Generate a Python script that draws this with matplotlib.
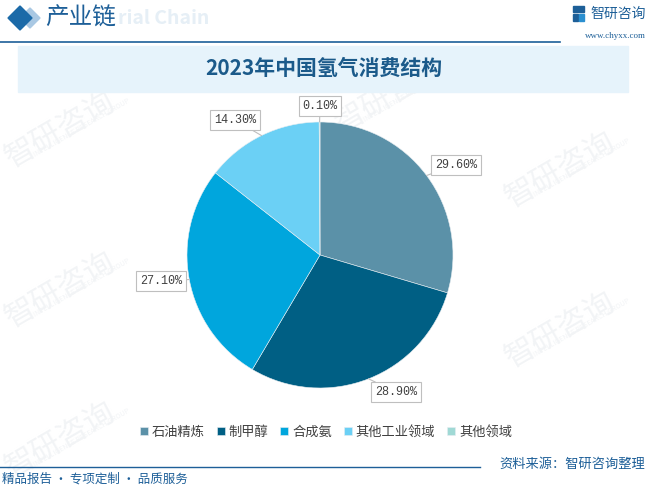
import numpy as np
import matplotlib.pyplot as plt
from matplotlib.patches import Rectangle, Polygon

plt.rcParams['font.family'] = ['Noto Sans CJK SC', 'DejaVu Sans']

# data
categories = ['石油精炼', '制甲醇', '合成氨', '其他工业领域', '其他领域']
shares = [29.6, 28.9, 27.1, 14.3, 0.1]
colors = ['#5b91a8', '#005f84', '#00a6dd', '#6bd0f5', '#a0d9d5']
title = '2023年中国氢气消费结构'

W, H = 648, 487


def py(y):
    # pixel y (from top) -> data y
    return H - y


fig = plt.figure(figsize=(6.48, 4.87), dpi=100)
ax = fig.add_axes([0, 0, 1, 1])
ax.set_xlim(0, W)
ax.set_ylim(0, H)
ax.axis('off')

# faint watermarks
for wx, wy in [(60, 130), (390, 95), (60, 290), (380, 270), (60, 440), (560, 170), (560, 330), (250, 200)]:
    ax.text(wx, py(wy), '智研咨询', fontsize=22, color='#f2f4f6', rotation=30,
            ha='center', va='center', zorder=0)
    ax.text(wx + 22, py(wy - 2), 'INTELLIGENCE RESEARCH GROUP', fontsize=5, color='#f2f4f6',
            rotation=30, ha='center', va='center', zorder=0)

# header
ax.add_patch(Polygon([(30, py(8)), (40, py(18)), (30, py(28)), (20, py(18))], color='#a9c8e3', zorder=2))
ax.add_patch(Polygon([(20, py(6)), (32, py(18)), (20, py(30)), (8, py(18))], color='#1b6aa8', zorder=3))
ax.text(118, py(19), 'rial Chain', fontsize=14, fontweight='bold', color='#e6eff6',
        va='center', ha='left', zorder=1)
ax.text(45, py(18), '产业链', fontsize=17, color='#1d5f98', va='center', ha='left', zorder=3)
ax.plot([0, 560], [py(42), py(42)], color='#1d5f98', lw=1.2)
ax.add_patch(Rectangle((573, py(21)), 5, 7, color='#1d5f98'))
ax.add_patch(Rectangle((579, py(21)), 5, 7, color='#2a8fd0'))
ax.add_patch(Rectangle((573, py(12)), 11, 6, color='#1d5f98'))
ax.text(590, py(14), '智研咨询', fontsize=10, color='#1d5f98', va='center', ha='left')
ax.text(646, py(36), 'www.chyxx.com', fontsize=6.5, color='#1d5f98', va='center', ha='right',
        family=['Liberation Serif', 'DejaVu Serif'])

# title band
ax.add_patch(Rectangle((18, py(92)), 610, 46, color='#e6f3fb', zorder=1))
ax.text(324, py(68), title, fontsize=15, fontweight='bold', color='#1b5a8a',
        ha='center', va='center', zorder=2)

# pie
cx, cy, r = 320, py(255), 133
wedges, _ = ax.pie(shares, colors=colors, startangle=90, counterclock=False,
                   center=(cx, cy), radius=r, frame=True,
                   wedgeprops=dict(linewidth=0.4, edgecolor='#e8eef2'))
ax.set_xlim(0, W)
ax.set_ylim(0, H)
ax.set_aspect('equal')
ax.axis('off')

label_pos = [(456, 165), (396, 392), (161, 281), (235, 120), (320, 106)]
for w, v, (lx, ly) in zip(wedges, shares, label_pos):
    mid = np.deg2rad((w.theta1 + w.theta2) / 2)
    ex, ey = cx + r * np.cos(mid), cy + r * np.sin(mid)
    ax.annotate('%.2f%%' % v, xy=(ex, ey), xytext=(lx, py(ly)),
                fontsize=8.5, color='#404040', ha='center', va='center',
                family=['Liberation Mono', 'DejaVu Sans Mono'],
                bbox=dict(boxstyle='square,pad=0.3', fc='white', ec='#bfbfbf', lw=0.8),
                arrowprops=dict(arrowstyle='-', color='#bfbfbf', lw=0.8,
                                shrinkA=0, shrinkB=0))

# legend
fig.legend(wedges, categories, loc='center', bbox_to_anchor=(326 / W, 1 - 432 / H),
           ncol=5, frameon=False, fontsize=9.5, handlelength=0.6, handleheight=0.6,
           handletextpad=0.3, columnspacing=0.9, labelcolor='#404040')

# footer
ax.plot([0, 480], [py(467), py(467)], color='#1d5f98', lw=1.0)
ax.text(645, py(464), '资料来源：智研咨询整理', fontsize=9.5, color='#1d5f98', ha='right', va='center')
ax.text(2, py(479), '精品报告 · 专项定制 · 品质服务', fontsize=9, color='#1d5f98', ha='left', va='center')

fig.savefig('out.png', dpi=100)
